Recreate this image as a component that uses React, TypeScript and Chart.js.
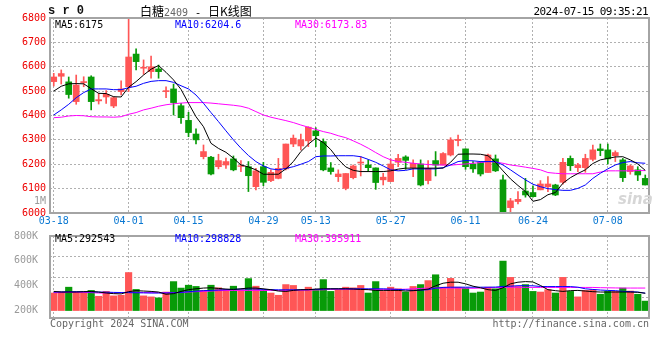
import React, { useEffect, useRef } from "react";
import { Chart, registerables } from "chart.js";
Chart.register(...registerables);

const dates = [
  "03-18","03-19","03-20","03-21","03-22","03-25","03-26","03-27","03-28","03-29",
  "04-01","04-02","04-03","04-08","04-09","04-10","04-11","04-12","04-15","04-16","04-17","04-18","04-19","04-22","04-23","04-24","04-25","04-26","04-29","04-30",
  "05-06","05-07","05-08","05-09","05-10","05-13","05-14","05-15","05-16","05-17","05-20","05-21","05-22","05-23","05-24","05-27","05-28","05-29","05-30","05-31",
  "06-03","06-04","06-05","06-06","06-07","06-11","06-12","06-13","06-14","06-17","06-18","06-19","06-20","06-21","06-24","06-25","06-26","06-27","06-28",
  "07-01","07-02","07-03","07-04","07-05","07-08","07-09","07-10","07-11","07-12","07-15",
];
const shownDates = ["03-18","04-01","04-15","04-29","05-13","05-27","06-11","06-24","07-08"];

const opens = [6539,6561,6538,6457,6535,6558,6460,6476,6439,6498,6518,6652,6594,6580,6591,6498,6509,6440,6380,6324,6231,6229,6190,6197,6222,6191,6190,6108,6190,6133,6142,6181,6283,6275,6296,6337,6293,6185,6149,6101,6145,6205,6197,6185,6136,6129,6208,6230,6186,6201,6133,6215,6197,6238,6297,6263,6201,6208,6166,6222,6136,6022,6047,6090,6084,6095,6108,6115,6126,6224,6186,6186,6220,6263,6259,6235,6218,6170,6177,6142];
const highs = [6573,6587,6558,6566,6559,6563,6491,6502,6477,6542,6798,6674,6628,6644,6607,6518,6529,6450,6413,6345,6279,6232,6241,6225,6234,6215,6211,6183,6208,6177,6224,6283,6320,6324,6354,6350,6304,6207,6177,6162,6197,6231,6218,6185,6163,6222,6241,6235,6218,6218,6215,6252,6248,6309,6320,6263,6211,6211,6242,6238,6156,6060,6088,6142,6111,6133,6149,6118,6224,6234,6204,6241,6279,6283,6283,6255,6224,6197,6190,6156];
const lows = [6521,6529,6471,6446,6518,6423,6447,6450,6432,6484,6498,6587,6569,6553,6553,6473,6402,6367,6313,6283,6222,6156,6181,6183,6173,6170,6088,6095,6112,6129,6140,6177,6272,6259,6272,6272,6173,6159,6129,6095,6140,6152,6170,6097,6115,6129,6190,6179,6149,6111,6119,6152,6197,6234,6275,6179,6166,6152,6166,6170,5990,5996,6037,6065,6065,6095,6088,6071,6118,6174,6170,6167,6214,6235,6201,6211,6129,6159,6133,6115];
const closes = [6558,6572,6486,6525,6539,6457,6465,6487,6473,6509,6640,6621,6598,6600,6580,6502,6453,6391,6330,6300,6252,6160,6215,6211,6177,6194,6153,6173,6126,6167,6183,6283,6307,6300,6352,6317,6177,6170,6160,6162,6193,6209,6186,6125,6147,6201,6224,6216,6204,6115,6183,6197,6244,6300,6302,6190,6181,6160,6238,6173,6003,6050,6056,6074,6067,6119,6119,6074,6208,6194,6197,6224,6259,6256,6222,6248,6145,6193,6156,6115];

const ma5 = [6500,6520,6530,6531,6530,6510,6491,6490,6477,6476,6516,6539,6566,6590,6605,6577,6546,6507,6450,6395,6354,6286,6265,6249,6225,6197,6189,6177,6159,6159,6159,6181,6211,6252,6282,6307,6289,6260,6220,6189,6175,6170,6170,6170,6170,6173,6180,6184,6184,6184,6184,6184,6184,6208,6241,6242,6242,6241,6235,6208,6173,6140,6113,6088,6048,6055,6075,6084,6122,6145,6162,6177,6203,6218,6224,6230,6231,6218,6201,6175];
const ma10 = [6402,6423,6446,6473,6494,6509,6509,6509,6506,6506,6514,6520,6532,6540,6543,6543,6536,6522,6509,6484,6450,6412,6375,6337,6300,6266,6236,6211,6193,6181,6177,6183,6190,6200,6211,6231,6234,6234,6235,6235,6235,6231,6220,6208,6193,6177,6173,6175,6181,6181,6181,6181,6186,6197,6211,6215,6214,6211,6211,6211,6197,6177,6156,6136,6118,6108,6100,6096,6093,6093,6101,6115,6142,6163,6181,6197,6207,6211,6206,6204];
const ma30 = [6391,6393,6398,6400,6399,6395,6394,6394,6393,6395,6405,6412,6423,6430,6438,6444,6448,6451,6453,6453,6453,6451,6448,6445,6442,6438,6430,6416,6402,6393,6386,6379,6371,6361,6352,6343,6334,6327,6317,6309,6296,6282,6266,6248,6231,6218,6211,6208,6204,6201,6199,6197,6197,6196,6199,6201,6204,6207,6211,6209,6204,6197,6193,6188,6183,6177,6166,6163,6161,6161,6161,6161,6161,6168,6173,6173,6173,6173,6174,6174];

const volumes = [341000,349000,388000,349000,349000,362000,315000,354000,318000,323000,506000,370000,318000,310000,302000,349000,433000,381000,404000,394000,362000,404000,383000,370000,396000,368000,457000,396000,362000,341000,323000,409000,402000,362000,388000,362000,449000,354000,370000,388000,383000,402000,341000,433000,354000,388000,375000,349000,394000,409000,441000,488000,388000,459000,388000,381000,341000,349000,388000,375000,598000,467000,394000,409000,354000,349000,368000,341000,467000,354000,310000,362000,368000,331000,354000,354000,381000,357000,331000,276000];
const volMa5 = [354000,349000,349000,349000,352000,354000,349000,341000,336000,334000,352000,360000,357000,354000,349000,331000,336000,354000,368000,375000,381000,383000,378000,373000,370000,375000,381000,381000,375000,368000,357000,354000,362000,368000,368000,373000,375000,375000,375000,375000,373000,370000,368000,362000,362000,362000,362000,357000,360000,365000,373000,399000,420000,428000,428000,415000,396000,383000,368000,362000,383000,415000,428000,433000,430000,402000,368000,360000,354000,360000,362000,357000,352000,349000,349000,349000,349000,349000,347000,339000];
const volMa10 = [349000,350000,351000,352000,351000,350000,349000,348000,346000,345000,344000,343000,342000,341000,341000,341000,343000,346000,352000,356000,360000,362000,365000,368000,370000,373000,374000,373000,370000,368000,367000,367000,367000,367000,368000,370000,372000,375000,375000,375000,375000,375000,375000,375000,375000,373000,370000,367000,362000,364000,368000,380000,386000,388000,388000,388000,388000,388000,388000,389000,394000,396000,400000,400000,399000,394000,393000,393000,393000,393000,388000,375000,370000,365000,362000,360000,355000,352000,349000,340000];
const volMa30 = [344000,344000,345000,346000,346000,344000,341000,341000,341000,343000,349000,347000,345000,344000,344000,344000,344000,344000,349000,352000,354000,357000,360000,362000,362000,362000,362000,362000,362000,362000,362000,362000,363000,364000,365000,366000,367000,370000,370000,370000,370000,370000,370000,370000,370000,370000,370000,372000,375000,378000,381000,381000,381000,381000,381000,380000,379000,381000,384000,385000,386000,388000,388000,386000,386000,386000,386000,386000,386000,386000,386000,386000,386000,384000,383000,382000,381000,381000,381000,381000];

const volBase = 200000;
const volTickValues = [200000, 400000, 600000, 800000];

const UP = "#ff5656";
const DOWN = "#089b08";
const GRID = "#b0b0b0";
const MONO = "'DejaVu Sans Mono', monospace";

const candleColor = (i: number) => (closes[i] >= opens[i] ? UP : DOWN);

const framePlugin = {
  id: "frame",
  afterDraw(chart: any) {
    const { ctx, chartArea: a } = chart;
    ctx.save();
    ctx.strokeStyle = "#a4a4a4";
    ctx.lineWidth = 2;
    ctx.strokeRect(a.left, a.top, a.right - a.left, a.bottom - a.top);
    ctx.restore();
  },
};

const dateGridColor = (c: any) =>
  shownDates.includes(dates[c.index]) ? GRID : "rgba(0,0,0,0)";

function Txt(props: any) {
  const { x, y, size = 10, color = "#000", align = "left", font = MONO, weight = "normal", ls = 0, style = {}, children } = props;
  const lh = Math.round(size * 1.3);
  const pos: any = align === "left" ? { left: x } : { right: 660 - x };
  return (
    <div
      style={{
        position: "absolute",
        top: y - lh / 2,
        height: lh,
        lineHeight: lh + "px",
        fontSize: size,
        fontFamily: font,
        fontWeight: weight,
        color,
        whiteSpace: "pre",
        letterSpacing: ls,
        ...pos,
        ...style,
      }}
    >
      {children}
    </div>
  );
}

export default function App() {
  const mainRef = useRef<HTMLCanvasElement>(null);
  const volRef = useRef<HTMLCanvasElement>(null);

  useEffect(() => {
    const main = new Chart(mainRef.current as HTMLCanvasElement, {
      type: "bar",
      data: {
        labels: dates,
        datasets: [
          { type: "line", data: ma5, borderColor: "#000000", borderWidth: 1, pointRadius: 0, tension: 0, order: 0 } as any,
          { type: "line", data: ma10, borderColor: "#0000ff", borderWidth: 1, pointRadius: 0, tension: 0, order: 0 } as any,
          { type: "line", data: ma30, borderColor: "#ff00ff", borderWidth: 1, pointRadius: 0, tension: 0, order: 0 } as any,
          {
            type: "bar",
            data: opens.map((o, i) => [o, closes[i]]),
            backgroundColor: opens.map((_, i) => candleColor(i)),
            barThickness: 6,
            grouped: false,
            borderWidth: 0,
            borderSkipped: false,
            order: 2,
          } as any,
          {
            type: "bar",
            data: lows.map((l, i) => [l, highs[i]]),
            backgroundColor: lows.map((_, i) => candleColor(i)),
            barThickness: 1,
            grouped: false,
            borderWidth: 0,
            order: 3,
          } as any,
        ],
      },
      options: {
        animation: false,
        responsive: false,
        maintainAspectRatio: false,
        devicePixelRatio: 1,
        layout: { padding: { left: 0, right: 11, top: 18, bottom: 0 } },
        plugins: { legend: { display: false }, tooltip: { enabled: false } },
        scales: {
          x: {
            type: "category",
            offset: true,
            grid: { offset: false, drawTicks: false, color: dateGridColor, lineWidth: 1 },
            border: { display: false, dash: [2, 2] },
            ticks: {
              autoSkip: false,
              maxRotation: 0,
              minRotation: 0,
              padding: 2,
              color: "#0a78d2",
              font: { family: MONO, size: 10 },
              callback: (_v: any, i: number) => (shownDates.includes(dates[i]) ? dates[i] : ""),
            },
            afterFit: (s: any) => {
              s.height = 17;
            },
          },
          y: {
            min: 6000,
            max: 6800,
            ticks: {
              stepSize: 100,
              padding: 4,
              color: "#ee0000",
              font: { family: MONO, size: 10 },
              callback: (v: any) => String(v),
            },
            grid: {
              drawTicks: false,
              color: (c: any) =>
                c.tick && (c.tick.value === 6000 || c.tick.value === 6800) ? "rgba(0,0,0,0)" : GRID,
            },
            border: { display: false, dash: [2, 2] },
            afterFit: (s: any) => {
              s.width = 50;
            },
          },
        },
      },
      plugins: [framePlugin],
    } as any);

    const vol = new Chart(volRef.current as HTMLCanvasElement, {
      type: "bar",
      data: {
        labels: dates,
        datasets: [
          { type: "line", data: volMa5, borderColor: "#000000", borderWidth: 1, pointRadius: 0, order: 0, yAxisID: "y" } as any,
          { type: "line", data: volMa10, borderColor: "#0000ff", borderWidth: 1, pointRadius: 0, order: 0, yAxisID: "y" } as any,
          { type: "line", data: volMa30, borderColor: "#ff00ff", borderWidth: 1, pointRadius: 0, order: 0, yAxisID: "y" } as any,
          {
            type: "bar",
            data: volumes.map((v) => [volBase, v]),
            backgroundColor: volumes.map((_, i) => candleColor(i)),
            barThickness: 6.5,
            grouped: false,
            borderWidth: 0,
            order: 2,
            yAxisID: "y",
          } as any,
        ],
      },
      options: {
        animation: false,
        responsive: false,
        maintainAspectRatio: false,
        devicePixelRatio: 1,
        layout: { padding: { left: 0, right: 11, top: 8, bottom: 42 } },
        plugins: { legend: { display: false }, tooltip: { enabled: false } },
        scales: {
          x: {
            type: "category",
            offset: true,
            grid: { offset: false, drawTicks: false, color: dateGridColor },
            border: { display: false, dash: [2, 2] },
            ticks: { display: false, autoSkip: false, maxRotation: 0, minRotation: 0 },
            afterFit: (s: any) => {
              s.height = 0;
            },
          },
          y: {
            position: "left",
            min: 140000,
            max: 800000,
            afterBuildTicks: (s: any) => {
              s.ticks = volTickValues.map((v) => ({ value: v }));
            },
            ticks: {
              padding: 4,
              color: "#9a9a9a",
              font: { family: MONO, size: 10 },
              callback: (v: any) => Math.round(Number(v) / 1000) + "K",
            },
            grid: { display: false },
            border: { display: false },
            afterFit: (s: any) => {
              s.width = 50;
            },
          },
          yg: {
            position: "right",
            min: 0,
            max: 4,
            ticks: { display: false, stepSize: 1 },
            grid: {
              drawTicks: false,
              color: (c: any) =>
                c.tick && (c.tick.value === 0 || c.tick.value === 4) ? "rgba(0,0,0,0)" : GRID,
            },
            border: { display: false, dash: [2, 2] },
            afterFit: (s: any) => {
              s.width = 0;
            },
          },
        },
      },
      plugins: [framePlugin],
    } as any);

    return () => {
      main.destroy();
      vol.destroy();
    };
  }, []);

  return (
    <div style={{ position: "fixed", left: 0, top: 0, width: 660, height: 360, background: "#fff", overflow: "hidden" }}>
      <canvas ref={mainRef} width={660} height={230} style={{ position: "absolute", left: 0, top: 0 }} />
      <canvas ref={volRef} width={660} height={134} style={{ position: "absolute", left: 0, top: 226 }} />

      <Txt x={48} y={11} size={12} font="'Liberation Mono', monospace" weight="bold" color="#111">s r 0</Txt>
      <div style={{ position: "absolute", left: 140, top: 3, height: 16, lineHeight: "16px", whiteSpace: "pre", color: "#000" }}>
        <span style={{ fontFamily: "'Noto Sans CJK SC', sans-serif", fontSize: 12 }}>白糖</span>
        <span style={{ fontFamily: MONO, fontSize: 10, color: "#666" }}>2409</span>
        <span style={{ fontFamily: MONO, fontSize: 11 }}> - </span>
        <span style={{ fontFamily: "'Noto Sans CJK SC', sans-serif", fontSize: 12 }}>日K线图</span>
      </div>
      <Txt x={648} y={11.5} size={11} align="right" ls={-0.6}>2024-07-15 09:35:21</Txt>

      <Txt x={55} y={24} color="#000">MA5:6175</Txt>
      <Txt x={175} y={24} color="#0000ff">MA10:6204.6</Txt>
      <Txt x={295} y={24} color="#ff00ff">MA30:6173.83</Txt>

      <Txt x={46} y={200} align="right" color="#9a9a9a">1M</Txt>

      <Txt x={55} y={238.5} color="#000">MA5:292543</Txt>
      <Txt x={175} y={238.5} color="#0000ff">MA10:298828</Txt>
      <Txt x={295} y={238.5} color="#ff00ff">MA30:395911</Txt>

      <Txt x={50} y={323} color="#666">Copyright 2024 SINA.COM</Txt>
      <Txt x={649} y={323} align="right" color="#666">http://finance.sina.com.cn</Txt>

      <Txt x={618} y={199} size={15} font="'DejaVu Sans', sans-serif" weight="bold" color="#d6d6d6" style={{ fontStyle: "italic" }}>sina</Txt>
    </div>
  );
}
